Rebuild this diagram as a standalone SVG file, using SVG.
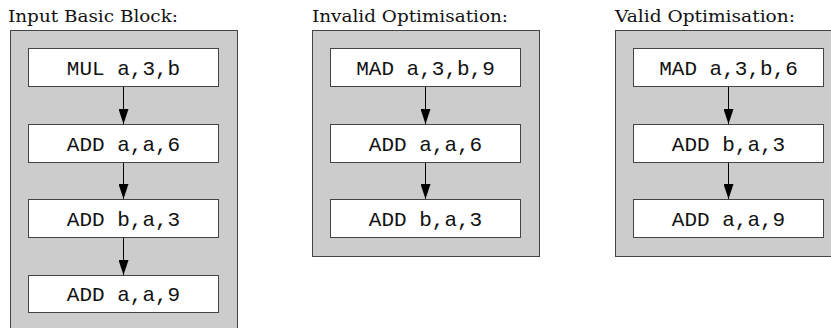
<svg xmlns="http://www.w3.org/2000/svg" width="831" height="328" viewBox="0 0 831 328">
<defs>
<style>
.title{font-family:"DejaVu Serif","Liberation Serif",serif;font-size:16.5px;fill:#111}
.panel{fill:#cccccc;stroke:#444;stroke-width:1}
.box{fill:#fff;stroke:#444;stroke-width:1}
.code{font-family:"Liberation Mono","Courier New",monospace;font-size:21px;fill:#111;text-anchor:middle}
.conn{stroke:#000;stroke-width:1;fill:none;marker-end:url(#ah)}
</style>
<marker id="ah" markerWidth="15" markerHeight="10" refX="15" refY="5" orient="auto" markerUnits="userSpaceOnUse" viewBox="0 0 15 10">
<path d="M0,0 L15,5 L0,10 z" fill="#000"/>
</marker>
</defs>
<text class="title" x="8" y="22" textLength="170" lengthAdjust="spacingAndGlyphs">Input Basic Block:</text>
<text class="title" x="312" y="22" textLength="196" lengthAdjust="spacingAndGlyphs">Invalid Optimisation:</text>
<text class="title" x="615" y="22" textLength="180" lengthAdjust="spacingAndGlyphs">Valid Optimisation:</text>
<g id="panel-input"><rect class="panel" x="10.5" y="30.5" width="227" height="300"/></g>
<g id="panel-invalid"><rect class="panel" x="312.5" y="30.5" width="227" height="226"/></g>
<g id="panel-valid"><rect class="panel" x="615.5" y="30.5" width="227" height="226"/></g>
<g id="connectors">
<path class="conn" d="M123.5,86.5 V124"/>
<path class="conn" d="M123.5,162.5 V199"/>
<path class="conn" d="M123.5,237.5 V275"/>
<path class="conn" d="M425.5,86.5 V124"/>
<path class="conn" d="M425.5,162.5 V199"/>
<path class="conn" d="M728.5,86.5 V124"/>
<path class="conn" d="M728.5,162.5 V199"/>
</g>
<g id="n1"><rect class="box" x="28.5" y="48.5" width="190" height="38"/><text class="code" x="123.5" y="75">MUL a,3,b</text></g>
<g id="n2"><rect class="box" x="28.5" y="124.5" width="190" height="38"/><text class="code" x="123.5" y="151">ADD a,a,6</text></g>
<g id="n3"><rect class="box" x="28.5" y="199.5" width="190" height="38"/><text class="code" x="123.5" y="226">ADD b,a,3</text></g>
<g id="n4"><rect class="box" x="28.5" y="275.5" width="190" height="37"/><text class="code" x="123.5" y="301">ADD a,a,9</text></g>
<g id="m1"><rect class="box" x="330.5" y="48.5" width="190" height="38"/><text class="code" x="425.5" y="75">MAD a,3,b,9</text></g>
<g id="m2"><rect class="box" x="330.5" y="124.5" width="190" height="38"/><text class="code" x="425.5" y="151">ADD a,a,6</text></g>
<g id="m3"><rect class="box" x="330.5" y="199.5" width="190" height="38"/><text class="code" x="425.5" y="226">ADD b,a,3</text></g>
<g id="v1"><rect class="box" x="633.5" y="48.5" width="190" height="38"/><text class="code" x="728.5" y="75">MAD a,3,b,6</text></g>
<g id="v2"><rect class="box" x="633.5" y="124.5" width="190" height="38"/><text class="code" x="728.5" y="151">ADD b,a,3</text></g>
<g id="v3"><rect class="box" x="633.5" y="199.5" width="190" height="38"/><text class="code" x="728.5" y="226">ADD a,a,9</text></g>
</svg>
